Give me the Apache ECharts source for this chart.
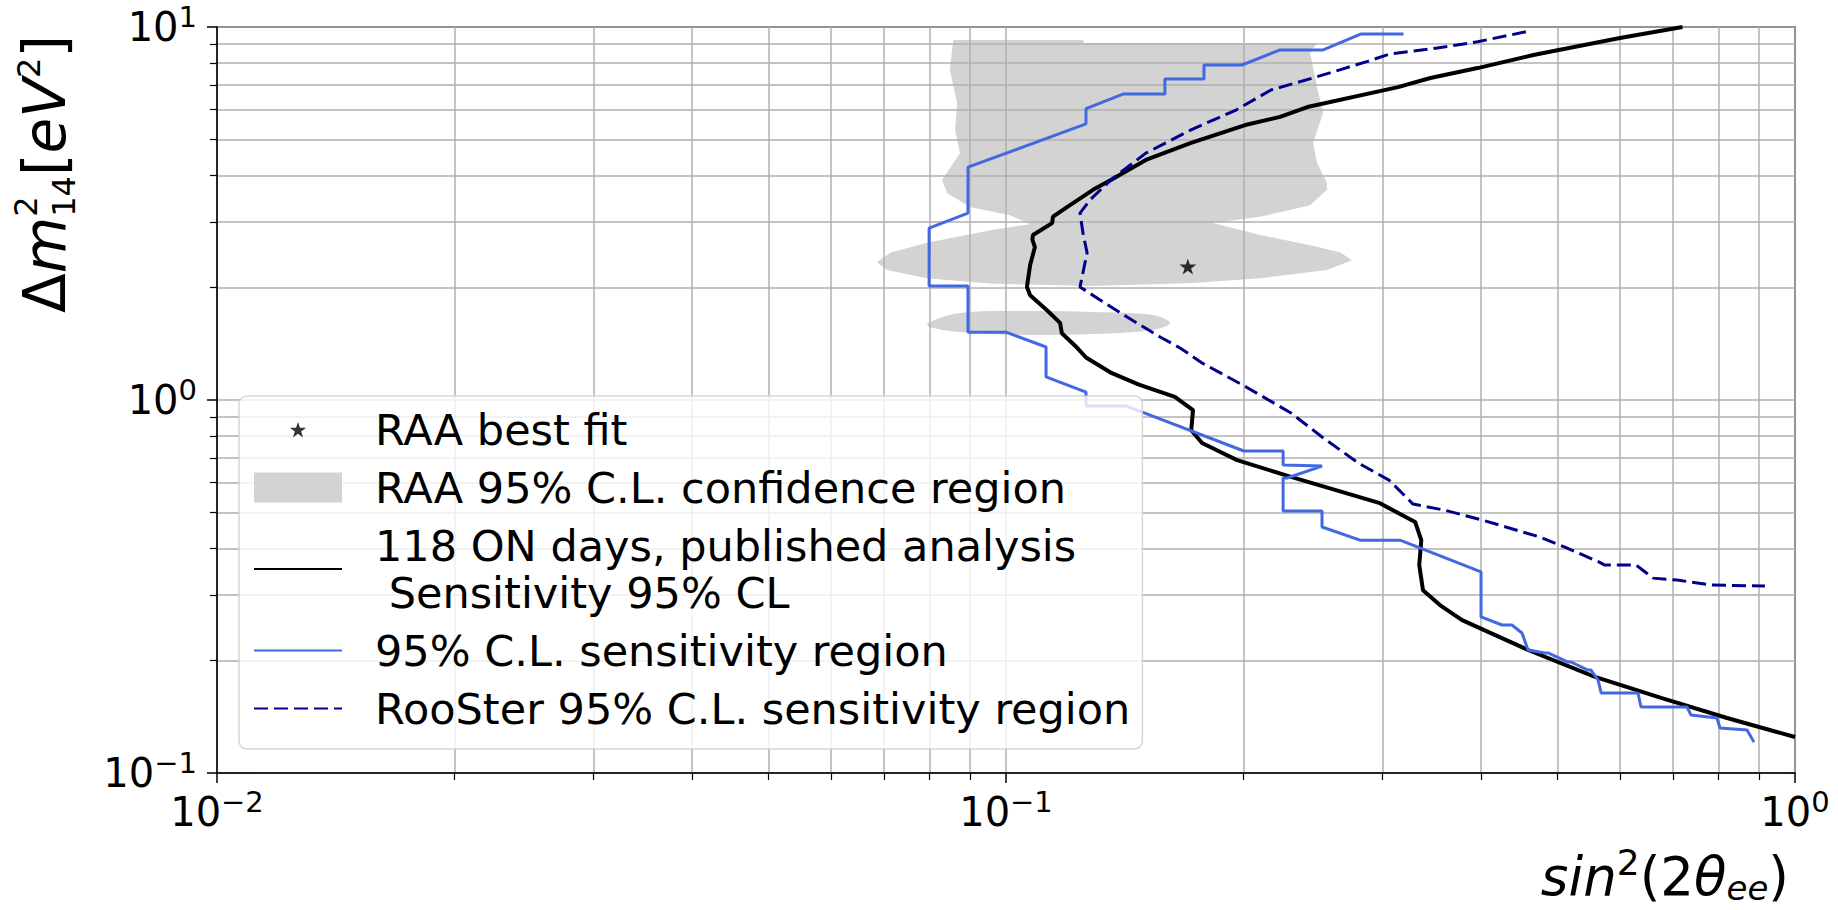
<!DOCTYPE html>
<html>
<head>
<meta charset="utf-8">
<title>RAA sensitivity</title>
<script src="https://cdn.jsdelivr.net/npm/echarts@6/dist/echarts.min.js"></script>
<style>
html,body{margin:0;padding:0;background:#fff;}
#main{width:1838px;height:910px;}
</style>
</head>
<body>
<div id="main"></div>
<script>
// axis ticks
var xTicks = [0.01, 0.1, 1];
var yTicks = [0.1, 1, 10];
var xMinor = [0.02, 0.03, 0.04, 0.05, 0.06, 0.07, 0.08, 0.09, 0.2, 0.3, 0.4, 0.5, 0.6, 0.7, 0.8, 0.9];
var yMinor = [0.2, 0.3, 0.4, 0.5, 0.6, 0.7, 0.8, 0.9, 2, 3, 4, 5, 6, 7, 8, 9];

// RAA best fit [sin2, dm2]
var bestFit = [[0.170, 2.28]];

// RAA 95% C.L. region outline (upper block + ellipse, and the small island)
var raaMain = [
  [0.0857, 9.23], [0.1252, 9.23], [0.1256, 9.06], [0.2479, 9.06], [0.2429, 8.52], [0.2479, 6.90],
  [0.2523, 5.88], [0.2450, 4.89], [0.2479, 4.32], [0.2552, 3.82], [0.2552, 3.66], [0.2429, 3.33],
  [0.2099, 3.10], [0.1830, 2.98], [0.2099, 2.77], [0.2429, 2.60], [0.2650, 2.49], [0.2745, 2.37],
  [0.2552, 2.23], [0.2099, 2.12], [0.1726, 2.06], [0.1289, 2.02], [0.0963, 2.05], [0.0794, 2.12],
  [0.0707, 2.23], [0.0686, 2.34], [0.0713, 2.48], [0.0794, 2.64], [0.0963, 2.86], [0.1073, 2.96],
  [0.1012, 3.13], [0.0900, 3.29], [0.0842, 3.59], [0.0830, 3.89], [0.0874, 4.59], [0.0862, 5.30],
  [0.0867, 6.26], [0.0849, 7.67]
];
var raaLow = [
  [0.0796, 1.608], [0.0874, 1.711], [0.1063, 1.732], [0.1289, 1.722], [0.1536, 1.690], [0.1614, 1.608],
  [0.1536, 1.541], [0.1289, 1.503], [0.1063, 1.494], [0.0874, 1.522], [0.0799, 1.570]
];

// 118 ON days, published analysis
var published = [
  [0.72, 10.0], [0.60, 9.34], [0.466, 8.41], [0.396, 7.76], [0.345, 7.30], [0.314, 6.90],
  [0.241, 6.10], [0.2225, 5.74], [0.201, 5.46], [0.1716, 4.89], [0.1504, 4.40], [0.1358, 3.89],
  [0.1289, 3.66], [0.1195, 3.29], [0.1147, 3.10], [0.1144, 2.98], [0.1082, 2.77], [0.1080, 2.69],
  [0.1088, 2.57], [0.1073, 2.30], [0.1063, 2.01], [0.1073, 1.91], [0.1127, 1.74], [0.1171, 1.61],
  [0.1177, 1.51], [0.1231, 1.38], [0.1263, 1.30], [0.1362, 1.18], [0.1474, 1.10], [0.1637, 1.02],
  [0.1726, 0.94], [0.1717, 0.83], [0.1772, 0.767], [0.1963, 0.690], [0.2297, 0.622], [0.297, 0.530],
  [0.330, 0.471], [0.336, 0.421], [0.334, 0.361], [0.3377, 0.309], [0.3548, 0.282], [0.3785, 0.257],
  [0.4588, 0.2137], [0.5579, 0.181], [0.6765, 0.159], [0.8201, 0.1404], [1.0, 0.1249]
];

// 95% C.L. sensitivity region (stepped contour)
var sensRegion = [
  [0.319, 9.58], [0.282, 9.58], [0.2523, 8.68], [0.2225, 8.68], [0.1991, 7.91], [0.1782, 7.91],
  [0.1782, 7.25], [0.159, 7.25], [0.159, 6.61], [0.1407, 6.61], [0.1263, 6.04], [0.1263, 5.50],
  [0.0895, 4.21], [0.0895, 3.17], [0.0799, 2.89], [0.0799, 2.02], [0.0895, 2.02], [0.0895, 1.52],
  [0.1, 1.52], [0.1124, 1.387], [0.1124, 1.153], [0.1263, 1.05], [0.1263, 0.964], [0.1419, 0.964],
  [0.2002, 0.730], [0.2245, 0.730], [0.2245, 0.669], [0.2515, 0.665], [0.2271, 0.618], [0.2245, 0.618],
  [0.2245, 0.504], [0.2515, 0.504], [0.2515, 0.4565], [0.281, 0.421], [0.3158, 0.421], [0.40, 0.346],
  [0.40, 0.262], [0.4252, 0.2493], [0.4377, 0.2493], [0.4508, 0.2373], [0.4588, 0.2137], [0.4822, 0.2098],
  [0.4864, 0.2098], [0.5156, 0.1984], [0.5201, 0.1984], [0.5466, 0.1888], [0.5514, 0.1888], [0.5629, 0.1775],
  [0.5679, 0.1639], [0.6324, 0.1639], [0.638, 0.1503], [0.7297, 0.1503], [0.7383, 0.143], [0.7964, 0.1404],
  [0.8035, 0.132], [0.8694, 0.1304], [0.8872, 0.121]
];

// RooSter 95% C.L. sensitivity region
var rooster = [
  [0.456, 9.71], [0.396, 9.13], [0.352, 8.78], [0.306, 8.46], [0.288, 8.10], [0.247, 7.34],
  [0.2167, 6.78], [0.1957, 5.99], [0.1716, 5.30], [0.1504, 4.59], [0.1358, 3.89], [0.1278, 3.44],
  [0.1241, 3.17], [0.1252, 2.80], [0.1267, 2.48], [0.1241, 2.01], [0.1316, 1.855], [0.1424, 1.669],
  [0.1568, 1.475], [0.1662, 1.379], [0.1772, 1.257], [0.2015, 1.084], [0.2297, 0.923], [0.2515, 0.796],
  [0.2795, 0.678], [0.3058, 0.610], [0.328, 0.526], [0.359, 0.507], [0.401, 0.477], [0.475, 0.429],
  [0.510, 0.404], [0.564, 0.368], [0.574, 0.361], [0.629, 0.361], [0.661, 0.333], [0.709, 0.329],
  [0.785, 0.319], [0.916, 0.317]
];

var FONT = '"DejaVu Sans", "Liberation Sans", sans-serif';
var GRID_LINE = { color: '#b0b0b0', width: 1.5 };

// five point star, used for the marker and (padded) for the legend icon
function starPath(cx, cy, R, r) {
  var s = '';
  for (var i = 0; i < 10; i++) {
    var a = -Math.PI / 2 + i * Math.PI / 5;
    var rad = i % 2 ? r : R;
    s += (i ? 'L' : 'M') + (cx + rad * Math.cos(a)).toFixed(2) + ' ' + (cy + rad * Math.sin(a)).toFixed(2);
  }
  return s + 'Z';
}

// 10^n tick labels
function powLabel(v) {
  var e = Math.round(Math.log10(v));
  return '{b|10}{s|' + (e < 0 ? '\u2212' + (-e) : e) + '}';
}
var powRich = {
  b: { fontSize: 40, lineHeight: 50, fontFamily: FONT, color: '#000' },
  s: { fontSize: 29, lineHeight: 26, verticalAlign: 'top', fontFamily: FONT, color: '#000' }
};

// mathtext-ish axis titles, laid out piece by piece: [text, size, italic, dy, stacked]
// a stacked piece does not advance, the next one is drawn at the same x
var mctx = document.createElement('canvas').getContext('2d');
function mathPieces(pieces) {
  var x = 0, kids = [];
  pieces.forEach(function (p) {
    var font = (p[2] ? 'italic ' : '') + p[1] + 'px ' + FONT;
    kids.push({
      type: 'text', x: x, y: p[3],
      style: {
        text: p[0], fontSize: p[1], fontFamily: FONT, fontStyle: p[2] ? 'italic' : 'normal',
        fill: '#000', align: 'left', verticalAlign: 'middle'
      }
    });
    mctx.font = font;
    if (!p[4]) x += mctx.measureText(p[0]).width;
  });
  return { kids: kids, width: x };
}

var yName = mathPieces([
  ['\u0394', 58, false, 0], ['m', 58, true, 0],
  ['2', 32, false, -19, true], ['14', 32, false, 19],
  ['[', 58, false, 0], ['eV', 58, true, 0], ['2', 32, false, -16], [']', 58, false, 0]
]);
var xName = mathPieces([
  ['sin', 53, true, 0], ['2', 36, false, -14], ['(2', 53, false, 0],
  ['\u03b8', 53, true, 0], ['ee', 34, true, 12], [')', 53, false, 0]
]);

var chart = echarts.init(document.getElementById('main'), null, { renderer: 'svg' });

function logAxis(min, max, major, minor, isX) {
  return [
    {
      type: 'log', logBase: 10, min: min, max: max, gridIndex: 0,
      position: isX ? 'bottom' : 'left',
      axisLine: { show: true, lineStyle: { color: '#000', width: 1.5 } },
      axisTick: { show: true, inside: false, length: 10, customValues: major, lineStyle: { color: '#000', width: 1.5 } },
      axisLabel: { customValues: major, formatter: powLabel, rich: powRich, margin: isX ? 14 : 20 },
      splitLine: { show: true, lineStyle: GRID_LINE },
      minorTick: { show: false }, minorSplitLine: { show: false }
    },
    {
      // overlay axis only for the minor ticks / minor grid
      type: 'log', logBase: 10, min: min, max: max, gridIndex: 0,
      position: isX ? 'bottom' : 'left',
      axisLine: { show: false },
      axisTick: { show: true, inside: false, length: 7, customValues: minor, lineStyle: { color: '#000', width: 1.2 } },
      axisLabel: { show: false },
      splitLine: { show: true, lineStyle: GRID_LINE }
    }
  ];
}

var hideDot = { opacity: 0 };

var option = {
  animation: false,
  backgroundColor: '#fff',
  grid: {
    left: 217, right: 43, top: 27, bottom: 137,
    show: true, borderColor: '#000', borderWidth: 1.5,
    outerBoundsMode: 'none'
  },
  xAxis: logAxis(0.01, 1, xTicks, xMinor, true),
  yAxis: logAxis(0.1, 10, yTicks, yMinor, false),
  legend: {
    orient: 'vertical', left: 239, top: 396,
    padding: [10, 12, 17, 14],
    itemWidth: 88, itemHeight: 30, itemGap: 11,
    backgroundColor: 'rgba(255,255,255,0.8)',
    borderColor: 'rgba(204,204,204,0.8)', borderWidth: 1.5, borderRadius: 8,
    selectedMode: false,
    textStyle: { fontSize: 43, lineHeight: 47, fontFamily: FONT, color: '#000', padding: [0, 0, 0, 28] },
    data: [
      { name: 'RAA best fit', icon: 'path://M0 0M88 30' + starPath(44, 16, 8.5, 3.3) },
      { name: 'RAA 95% C.L. confidence region', icon: 'rect' },
      { name: '118 ON days, published analysis\n Sensitivity 95% CL', itemStyle: hideDot },
      { name: '95% C.L. sensitivity region', itemStyle: hideDot },
      { name: 'RooSter 95% C.L. sensitivity region', itemStyle: hideDot }
    ]
  },
  graphic: [
    // y title reads bottom to top, starting just above the 10^1 ... well, near the top half
    { type: 'group', x: 45, y: 313, rotation: Math.PI / 2, children: yName.kids },
    { type: 'group', x: 1789 - xName.width, y: 876, children: xName.kids }
  ],
  series: [
    {
      name: 'RAA 95% C.L. confidence region',
      type: 'custom', z: -1, silent: true,
      itemStyle: { color: '#d3d3d3' },
      data: [raaMain[0], raaLow[0]],
      renderItem: function (params, api) {
        var poly = params.dataIndex === 0 ? raaMain : raaLow;
        return {
          type: 'polygon',
          shape: { points: poly.map(function (p) { return api.coord(p); }), smooth: params.dataIndex === 0 ? 0 : 0.35 },
          style: { fill: '#d3d3d3' }
        };
      }
    },
    {
      name: '118 ON days, published analysis\n Sensitivity 95% CL',
      type: 'line', symbol: 'none', z: 3, data: published,
      lineStyle: { color: '#000', width: 4 }, itemStyle: { color: '#000' }
    },
    {
      name: '95% C.L. sensitivity region',
      type: 'line', symbol: 'none', z: 3, data: sensRegion,
      lineStyle: { color: '#4169e1', width: 3 }, itemStyle: { color: '#4169e1' }
    },
    {
      name: 'RooSter 95% C.L. sensitivity region',
      type: 'line', symbol: 'none', z: 3, data: rooster,
      lineStyle: { color: '#00008b', width: 3, type: [14, 6] }, itemStyle: { color: '#00008b' }
    },
    {
      name: 'RAA best fit',
      type: 'scatter', z: 5, data: bestFit,
      symbol: 'path://' + starPath(50, 50, 50, 19.1), symbolSize: [17, 16],
      itemStyle: { color: '#000' }
    }
  ]
};
chart.setOption(option);
</script>
</body>
</html>
